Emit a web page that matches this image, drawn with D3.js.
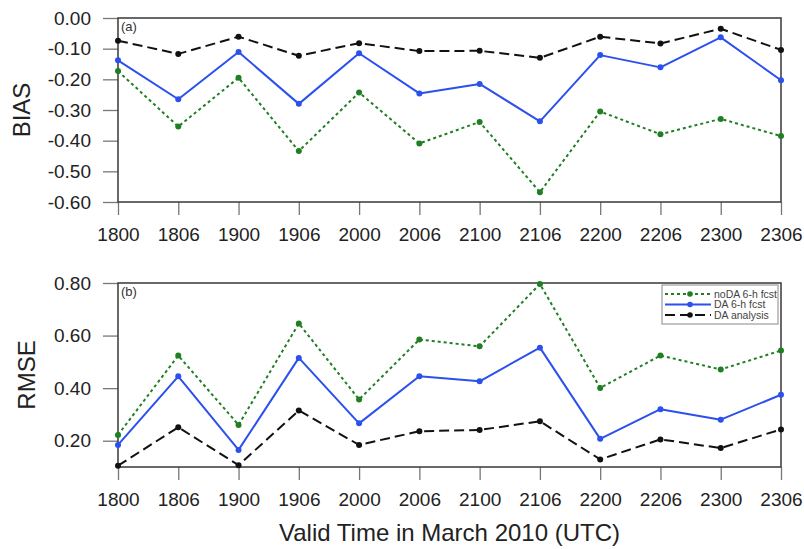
<!DOCTYPE html>
<html>
<head>
<meta charset="utf-8">
<script src="https://cdn.jsdelivr.net/npm/d3@7"></script>
<style>
  html, body { margin: 0; padding: 0; background: #fff; }
  svg { display: block; font-family: "Liberation Sans", Arial, Helvetica, sans-serif; }
</style>
</head>
<body>
<svg id="chart" width="804" height="549"></svg>
<script>
// Valid times (DDHH, March 2010)
const times = ["1800", "1806", "1900", "1906", "2000", "2006", "2100", "2106", "2200", "2206", "2300", "2306"];

// Panel (a): BIAS
const biasNoDA     = [-0.173, -0.354, -0.195, -0.434, -0.243, -0.409, -0.339, -0.568, -0.305, -0.379, -0.329, -0.385];
const biasDA       = [-0.138, -0.265, -0.111, -0.280, -0.115, -0.246, -0.215, -0.337, -0.121, -0.161, -0.063, -0.203];
const biasAnalysis = [-0.074, -0.117, -0.061, -0.123, -0.082, -0.108, -0.107, -0.130, -0.061, -0.083, -0.035, -0.104];

// Panel (b): RMSE
const rmseNoDA     = [0.222, 0.524, 0.260, 0.646, 0.357, 0.585, 0.559, 0.796, 0.401, 0.524, 0.471, 0.543];
const rmseDA       = [0.184, 0.445, 0.165, 0.515, 0.266, 0.445, 0.426, 0.554, 0.207, 0.320, 0.280, 0.375];
const rmseAnalysis = [0.105, 0.251, 0.107, 0.315, 0.184, 0.236, 0.241, 0.274, 0.129, 0.205, 0.172, 0.243];

// Axis ticks and ranges
const biasDomain = [-0.60, 0.00];
const biasTicks  = [0.00, -0.10, -0.20, -0.30, -0.40, -0.50, -0.60];
const rmseDomain = [0.10, 0.80];
const rmseTicks  = [0.20, 0.40, 0.60, 0.80];

const seriesNames = ["noDA 6-h fcst", "DA 6-h fcst", "DA analysis"];

const styles = [
  { color: "#1f7f22", dash: "3,3",  width: 2.0 },
  { color: "#2b50ee", dash: null,   width: 2.0 },
  { color: "#111111", dash: "10,5", width: 2.0 }
];

const svg = d3.select("#chart");
const fmt = d3.formatLocale({ decimal: ".", thousands: ",", grouping: [3], currency: ["", ""], minus: "-" }).format(".2f");

const left = 118, right = 781;
const x = d3.scalePoint().domain(times).range([left, right]);

function drawPanel(opts) {
  const { top, bottom, domain, ticks, series, yLabel, yLabelX, tag } = opts;
  const y = d3.scaleLinear().domain(domain).range([bottom, top]);
  const g = svg.append("g");

  // y axis (ticks outward, on the left)
  const ya = g.append("g")
    .attr("transform", `translate(${left},0)`)
    .call(d3.axisLeft(y).tickValues(ticks).tickFormat(fmt).tickSize(15).tickPadding(12));
  ya.select(".domain").remove();
  ya.selectAll(".tick line").attr("stroke", "#777").attr("stroke-width", 1.3);
  ya.selectAll(".tick text").attr("fill", "#222").style("font-size", "19px");

  // x axis (ticks outward, at the bottom)
  const xa = g.append("g")
    .attr("transform", `translate(0,${bottom})`)
    .call(d3.axisBottom(x).tickSize(13).tickPadding(13));
  xa.select(".domain").remove();
  xa.selectAll(".tick line").attr("stroke", "#777").attr("stroke-width", 1.3);
  xa.selectAll(".tick text").attr("fill", "#222").style("font-size", "19px");

  // plot frame
  g.append("rect")
    .attr("x", left).attr("y", top)
    .attr("width", right - left).attr("height", bottom - top)
    .attr("fill", "none").attr("stroke", "#444").attr("stroke-width", 1.6);

  // panel tag
  g.append("text")
    .attr("x", left + 3).attr("y", top + 13)
    .attr("fill", "#333").style("font-size", "13px")
    .text(tag);

  // y-axis title
  g.append("text")
    .attr("transform", `translate(${yLabelX},${(top + bottom) / 2}) rotate(-90)`)
    .attr("text-anchor", "middle").attr("dy", "0.35em")
    .attr("fill", "#222").style("font-size", "24px")
    .text(yLabel);

  const line = d3.line().x((d, i) => x(times[i])).y(d => y(d));

  series.forEach((vals, k) => {
    const st = styles[k];
    g.append("path")
      .datum(vals)
      .attr("d", line)
      .attr("fill", "none")
      .attr("stroke", st.color)
      .attr("stroke-width", st.width)
      .attr("stroke-dasharray", st.dash)
      .attr("stroke-linejoin", "round");
    g.selectAll(null)
      .data(vals)
      .enter().append("circle")
      .attr("cx", (d, i) => x(times[i]))
      .attr("cy", d => y(d))
      .attr("r", 3)
      .attr("fill", st.color);
  });
  return y;
}

drawPanel({
  top: 18, bottom: 202, domain: biasDomain, ticks: biasTicks,
  series: [biasNoDA, biasDA, biasAnalysis],
  yLabel: "BIAS", yLabelX: 22, tag: "(a)"
});

drawPanel({
  top: 283, bottom: 467, domain: rmseDomain, ticks: rmseTicks,
  series: [rmseNoDA, rmseDA, rmseAnalysis],
  yLabel: "RMSE", yLabelX: 27, tag: "(b)"
});

// x-axis title
svg.append("text")
  .attr("x", (left + right) / 2).attr("y", 541)
  .attr("text-anchor", "middle")
  .attr("fill", "#222").style("font-size", "24px")
  .text("Valid Time in March 2010 (UTC)");

// legend (panel b, top right)
const lg = svg.append("g").attr("transform", "translate(662,285)");
lg.append("rect")
  .attr("x", 0).attr("y", 0).attr("width", 116).attr("height", 39)
  .attr("fill", "#fff").attr("stroke", "#888").attr("stroke-width", 1);
seriesNames.forEach((name, k) => {
  const st = styles[k];
  const yy = 9 + k * 10.5;
  lg.append("line")
    .attr("x1", 3).attr("x2", 49).attr("y1", yy).attr("y2", yy)
    .attr("stroke", st.color).attr("stroke-width", 2)
    .attr("stroke-dasharray", st.dash);
  lg.append("circle").attr("cx", 28).attr("cy", yy).attr("r", 2.8).attr("fill", st.color);
  lg.append("text")
    .attr("x", 52).attr("y", yy).attr("dy", "0.35em")
    .attr("fill", "#444").style("font-size", "10.5px")
    .text(name);
});
</script>
</body>
</html>
